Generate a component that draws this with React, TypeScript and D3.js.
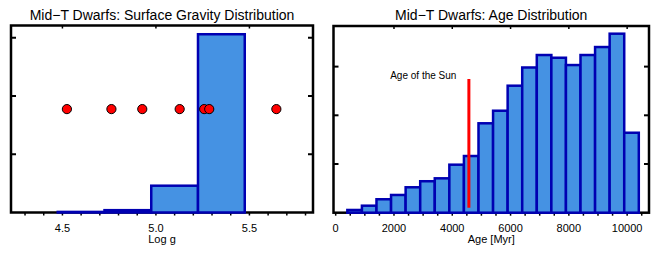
import React from 'react';
import * as d3 from 'd3';

// ---- data ----
const gravityTitle = 'Mid\u2212T Dwarfs: Surface Gravity Distribution';
const gravityBinLo = [4.475, 4.725, 4.975, 5.225];
const gravityBinWidth = 0.25;
const gravityCounts = [0.01, 0.04, 0.46, 3.06];
const gravityObjects = [4.524, 4.762, 4.927, 5.127, 5.258, 5.285, 5.644];
const gravityObjectLevel = 1.775;
const gravityMajor = [4.5, 5.0, 5.5];
const gravityMinor = [4.3, 4.4, 4.6, 4.7, 4.8, 4.9, 5.1, 5.2, 5.3, 5.4, 5.6, 5.7, 5.8];
const gravityYTicks = [1, 2, 3];

const ageTitle = 'Mid\u2212T Dwarfs: Age Distribution';
const ageBinLo = [400, 900, 1400, 1900, 2400, 2900, 3400, 3900, 4400, 4900,
  5400, 5900, 6400, 6900, 7400, 7900, 8400, 8900, 9400, 9900];
const ageBinWidth = 500;
const ageCounts = [2.8, 7.2, 13.8, 18.2, 26.1, 32.3, 35.3, 49.3, 58.2, 91.8,
  104.7, 130.4, 149.1, 161.9, 159.1, 151.6, 161.9, 170.1, 183.8, 82.1];
const ageMajor = [0, 2000, 4000, 6000, 8000, 10000];
const ageMinor = [500, 1000, 1500, 2500, 3000, 3500, 4500, 5000, 5500, 6500, 7000,
  7500, 8500, 9000, 9500, 10500];
const ageYTicks = [50, 100, 150];
const sunAge = 4570;
const sunLine = [5.1, 137.3];

const FILL = '#4592e3';
const EDGE = '#0000b2';
const FONT = '"Liberation Sans", Arial, Helvetica, sans-serif';

type PanelProps = {
  left: number; right: number; top: number; bottom: number;
  xDomain: [number, number]; yDomain: [number, number];
  title: string; xLabel: string;
  major: number[]; minor: number[]; yTicks: number[];
  fmt: (v: number) => string;
  children: (x: d3.ScaleLinear<number, number>, y: d3.ScaleLinear<number, number>) => React.ReactNode;
};

const Panel: React.FC<PanelProps> = (p) => {
  const x = d3.scaleLinear().domain(p.xDomain).range([p.left, p.right]);
  const y = d3.scaleLinear().domain(p.yDomain).range([p.bottom, p.top]);
  const cx = (p.left + p.right) / 2;
  return (
    <g>
      <text x={cx} y={20} textAnchor="middle" fontSize={14} fontFamily={FONT}>{p.title}</text>
      {/* frame */}
      <rect x={p.left} y={p.top} width={p.right - p.left} height={p.bottom - p.top}
        fill="none" stroke="#000" strokeWidth={2.5} />
      {/* bottom ticks, outward */}
      {[...p.major, ...p.minor].map((v, i) => (
        <line key={'b' + i} x1={x(v)} x2={x(v)} y1={p.bottom} y2={p.bottom + 3} stroke="#000" strokeWidth={1.5} />
      ))}
      {/* top ticks, inward */}
      {p.major.filter(v => x(v) > p.left + 3).map((v, i) => (
        <line key={'t' + i} x1={x(v)} x2={x(v)} y1={p.top} y2={p.top + 3} stroke="#000" strokeWidth={1.5} />
      ))}
      {/* left / right ticks */}
      {p.yTicks.map((v, i) => (
        <g key={'y' + i}>
          <line x1={p.left} x2={p.left + 5} y1={y(v)} y2={y(v)} stroke="#000" strokeWidth={2} />
          <line x1={p.right - 5} x2={p.right} y1={y(v)} y2={y(v)} stroke="#000" strokeWidth={2} />
        </g>
      ))}
      {p.major.map((v, i) => (
        <text key={'l' + i} x={x(v)} y={231.5} textAnchor="middle" fontSize={11} fontFamily={FONT}>{p.fmt(v)}</text>
      ))}
      <text x={cx} y={242.5} textAnchor="middle" fontSize={11} fontFamily={FONT}>{p.xLabel}</text>
      {p.children(x, y)}
    </g>
  );
};

const Bars: React.FC<{ x: d3.ScaleLinear<number, number>; y: d3.ScaleLinear<number, number>; lo: number[]; w: number; counts: number[] }> =
  ({ x, y, lo, w, counts }) => (
    <g>
      {lo.map((b, i) => (
        <rect key={i} x={x(b)} y={y(counts[i])} width={x(b + w) - x(b)} height={y(0) - y(counts[i])}
          fill={FILL} stroke={EDGE} strokeWidth={2.5} />
      ))}
    </g>
  );

export default function App() {
  return (
    <svg width={664} height={255} style={{ position: 'absolute', left: 0, top: 0, background: '#fff' }}>
      <rect width={664} height={255} fill="#fff" />
      <Panel left={11} right={313} top={25.5} bottom={212.5} xDomain={[4.225, 5.84]} yDomain={[0, 3.21]}
        title={gravityTitle} xLabel="Log g" major={gravityMajor} minor={gravityMinor} yTicks={gravityYTicks}
        fmt={d3.format('.1f')}>
        {(x, y) => (
          <g>
            <Bars x={x} y={y} lo={gravityBinLo} w={gravityBinWidth} counts={gravityCounts} />
            {gravityObjects.map((v, i) => (
              <circle key={i} cx={x(v)} cy={y(gravityObjectLevel)} r={4.6} fill="#ff0000" stroke="#000" strokeWidth={1} />
            ))}
          </g>
        )}
      </Panel>
      <Panel left={333.5} right={649} top={26} bottom={212.7} xDomain={[-75, 10750]} yDomain={[0, 191.7]}
        title={ageTitle} xLabel="Age [Myr]" major={ageMajor} minor={ageMinor} yTicks={ageYTicks}
        fmt={d3.format('d')}>
        {(x, y) => (
          <g>
            <Bars x={x} y={y} lo={ageBinLo} w={ageBinWidth} counts={ageCounts} />
            <line x1={x(sunAge)} x2={x(sunAge)} y1={y(sunLine[0])} y2={y(sunLine[1])} stroke="#ff0000" strokeWidth={3} />
            <text x={x(sunAge) - 12.5} y={y(sunLine[1]) + 0.5} textAnchor="end" fontSize={10} fontFamily={FONT}>Age of the Sun</text>
          </g>
        )}
      </Panel>
    </svg>
  );
}
